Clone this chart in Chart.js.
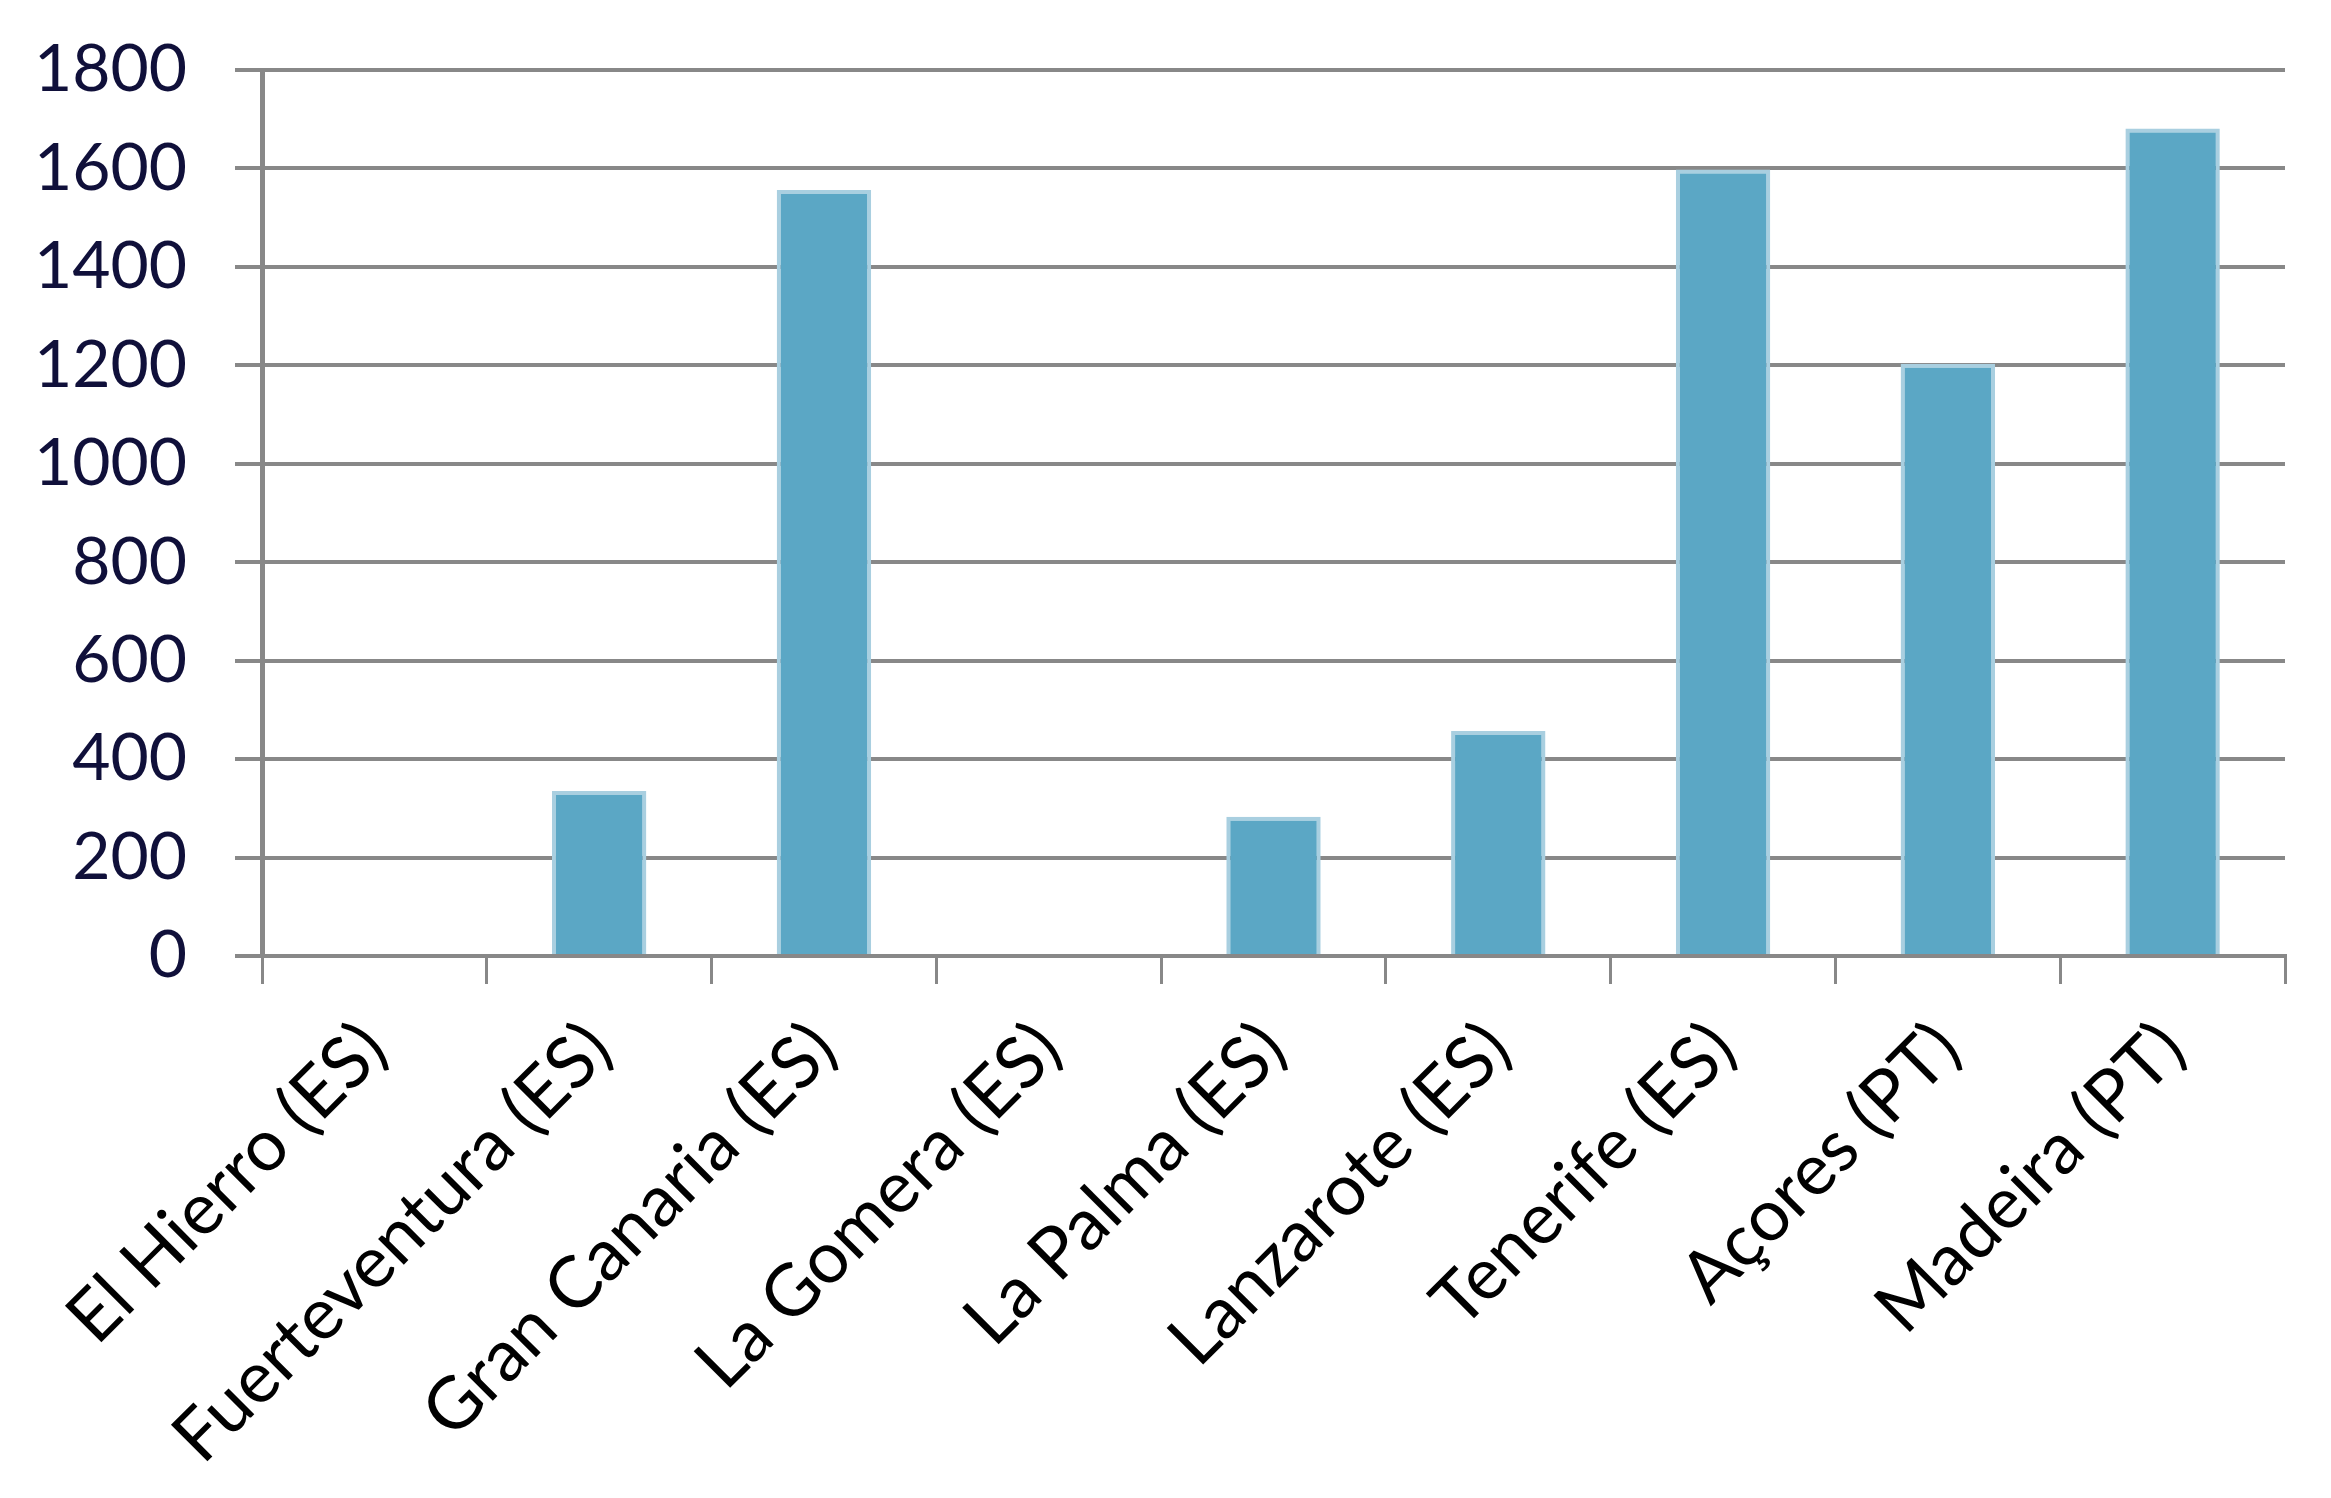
<!DOCTYPE html>
<html>
<head>
<meta charset="utf-8">
<script src="https://cdn.jsdelivr.net/npm/chart.js@4/dist/chart.umd.min.js"></script>
<style>
html,body{margin:0;padding:0;background:#fff;}
#wrap{width:2331px;height:1498px;}
</style>
</head>
<body>
<div id="wrap"><canvas id="c" width="2331" height="1498"></canvas></div>
<script>
const categories = ["El Hierro (ES)", "Fuerteventura (ES)", "Gran Canaria (ES)", "La Gomera (ES)", "La Palma (ES)", "Lanzarote (ES)", "Tenerife (ES)", "Açores (PT)", "Madeira (PT)"];
const values = [0, 335, 1556, 0, 283, 457, 1598, 1203, 1681];
const yTicks = [0, 200, 400, 600, 800, 1000, 1200, 1400, 1600, 1800];

const gridColor = '#888888';
const fontFamily = 'Lato, "Liberation Sans", sans-serif';

new Chart(document.getElementById('c'), {
  type: 'bar',
  data: {
    labels: categories,
    datasets: [{
      data: values,
      backgroundColor: '#5ba7c5',
      borderColor: '#a9cfe0',
      borderWidth: {left: 4, right: 4, top: 4, bottom: 0},
      borderSkipped: false,
      barPercentage: 0.42,
      categoryPercentage: 1.0
    }]
  },
  options: {
    responsive: false,
    animation: false,
    devicePixelRatio: 1,
    layout: {padding: {left: 0, right: 46, top: 70, bottom: 0}},
    plugins: {legend: {display: false}, tooltip: {enabled: false}},
    scales: {
      x: {
        offset: true,
        grid: {display: true, offset: true, drawOnChartArea: false, color: gridColor, lineWidth: 3, tickLength: 28, tickWidth: 3},
        border: {display: true, color: gridColor, width: 4},
        ticks: {
          minRotation: 45, maxRotation: 45, autoSkip: false, padding: 22,
          color: '#000', font: {family: fontFamily, size: 72}
        },
        afterFit: (s) => { s.height = 1498 - 956; }
      },
      y: {
        min: 0, max: 1800,
        afterBuildTicks: (s) => { s.ticks = yTicks.map(v => ({value: v})); },
        grid: {color: gridColor, lineWidth: 4, tickLength: 27},
        border: {display: true, color: gridColor, width: 5},
        ticks: {
          padding: 48,
          color: '#10103a', font: {family: fontFamily, size: 66},
          callback: (v) => String(v)
        },
        afterFit: (s) => { s.width = 262; s.paddingTop = 0; s.paddingBottom = 0; }
      }
    }
  }
});
</script>
</body>
</html>
